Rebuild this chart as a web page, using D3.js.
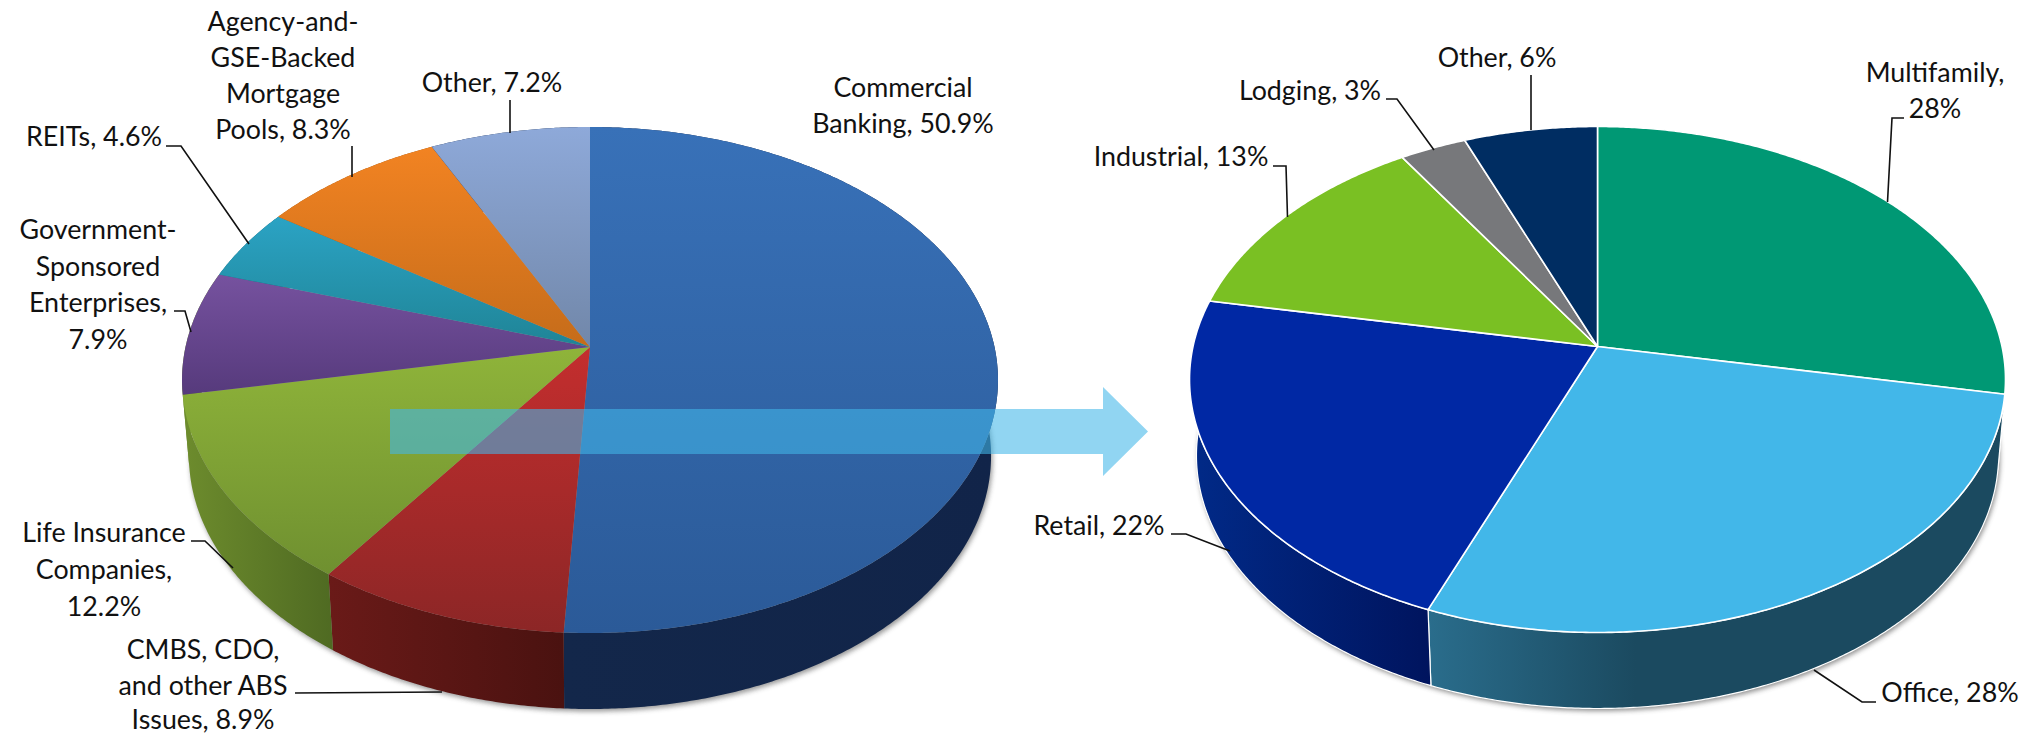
<!DOCTYPE html>
<html><head><meta charset="utf-8">
<style>html,body{margin:0;padding:0;background:#fff}svg{display:block}</style>
<script src="https://cdn.jsdelivr.net/npm/d3@7/dist/d3.min.js"></script>
</head><body><svg id="c" width="2029" height="735"></svg>
<script>
// ---- data ----
const fundingCategories = ["Commercial Banking","CMBS, CDO, and other ABS Issues","Life Insurance Companies","Government-Sponsored Enterprises","REITs","Agency-and-GSE-Backed Mortgage Pools","Other"];
const fundingValues = [50.9, 8.9, 12.2, 7.9, 4.6, 8.3, 7.2];
const propertyCategories = ["Multifamily","Office","Retail","Industrial","Lodging","Other"];
const propertyValues = [28, 28, 22, 13, 3, 6];

// ---- palette ----
const fundingTop  = ["#3871b8","#c42e2e","#8fb43a","#76529f","#2ba3c4","#f28322","#8ea9d9"];
const fundingBot  = ["#2b5a98","#8c2626","#6f9030","#563a7c","#1f8496","#c56c1a","#7187a9"];
const fundingWallL= ["#13274a","#6a1a18","#6d8c2d","#6d8c2d","#1a6f80","#a05a14","#13274a"];
const fundingWallR= ["#112449","#4a1210","#4f6a22","#6d8c2d","#155c6a","#8a4c10","#13274a"];
const propertyFill= ["#009874","#42b7e9","#0028a4","#7ac023","#77787b","#002d62"];
const propertyWallL=["#1b4a60","#2a6d8c","#012a88","#012a88","#55565a","#001f48"];
const propertyWallR=["#1b4a60","#1b4a60","#00145e","#012a88","#48494c","#001a3c"];

// ---- layout ----
const W = 2029, H = 735, K = 0.1304, RX = 404.5, RY = 248.7, DEPTH = 76, SHRINK = 0.983;
const leftCenter = {x: 590, y: 347}, rightCenter = {x: 1597.5, y: 346.5};
const fontFamily = "Lato, 'Open Sans', sans-serif";

// [text lines, x centre, y centres of each line]
const labelLines = [
 [["Commercial","Banking, 50.9%"],903,[88,124]],
 [["Other, 7.2%"],492,[83]],
 [["Agency-and-","GSE-Backed","Mortgage","Pools, 8.3%"],283,[22,58,94,130]],
 [["REITs, 4.6%"],94,[137]],
 [["Government-","Sponsored","Enterprises,","7.9%"],98,[230,267,303,340]],
 [["Life Insurance","Companies,","12.2%"],104,[533,570,607]],
 [["CMBS, CDO,","and other ABS","Issues, 8.9%"],203,[650,686,720]],
 [["Other, 6%"],1497,[58]],
 [["Lodging, 3%"],1310,[91]],
 [["Industrial, 13%"],1181,[157]],
 [["Multifamily,","28%"],1935,[73,109]],
 [["Retail, 22%"],1099,[526]],
 [["Office, 28%"],1950,[693]]
];
const leaderLines = [
 [[510,100],[510,133]],
 [[352,146],[352,177]],
 [[166,146],[181,146],[249,244]],
 [[174,311],[185,311],[191,332]],
 [[191,541],[205,541],[233,568]],
 [[295,693],[442,692]],
 [[1531,75],[1531,130]],
 [[1386,99],[1397,99],[1434,150]],
 [[1273,166],[1286,166],[1287.5,217]],
 [[1904,118],[1892,118],[1887.5,202]],
 [[1171,534],[1186,534],[1230,551]],
 [[1876,702],[1862,702],[1814,670]]
];
const arrowBar = {x0: 390, x1: 1103, tip: 1148, y0: 409, y1: 454, head0: 387, head1: 476};

// ---- drawing ----
const svg = d3.select("#c");
const defs = svg.append("defs");
const blur = defs.append("filter").attr("id","soft").attr("x","-5%").attr("y","-5%").attr("width","110%").attr("height","110%");
blur.append("feGaussianBlur").attr("stdDeviation",2.6);
const path = d3.line().x(d=>d[0]).y(d=>d[1]);
const pieGen = d3.pie().sort(null);
let gid = 0;
function grad(dir, stops){
  const id = "g"+(gid++);
  const g = defs.append("linearGradient").attr("id",id).attr("x1",0).attr("y1",0)
    .attr("x2",dir==="h"?1:0).attr("y2",dir==="h"?0:1);
  stops.forEach(s=>g.append("stop").attr("offset",s[0]).attr("stop-color",s[1]));
  return "url(#"+id+")";
}
function drawPie(values, center, topFill, wallFill, edge, shadowOpacity){
  const sx = d3.scaleLinear().domain([-1,1]).range([center.x-RX, center.x+RX]);
  const sy = d3.scaleLinear().domain([-1,1]).range([center.y-RY, center.y+RY]);
  const top = a => { const u=Math.sin(a), v=-Math.cos(a), p=1/(1-K*v);
    return [sx(u*p), sy(v*p)]; };
  const bot = a => { const t=top(a);
    return [center.x+(t[0]-center.x)*SHRINK, t[1]+DEPTH]; };
  const arcPts = (f,a0,a1) => d3.range(0,1.0001,1/Math.max(2,Math.ceil((a1-a0)/0.008))).map(t=>f(a0+(a1-a0)*t));
  const arcs = pieGen(values);
  const g = svg.append("g");
  g.append("path").attr("d",path(arcPts(bot,0,2*Math.PI))+"Z")
    .attr("transform","translate(1.5,2.5)").attr("fill","#444").attr("opacity",shadowOpacity).attr("filter","url(#soft)");
  g.selectAll(".wall").data(arcs).join("path").attr("class","wall")
    .attr("d",d=>path(arcPts(top,d.startAngle,d.endAngle).concat(arcPts(bot,d.startAngle,d.endAngle).reverse()))+"Z")
    .attr("fill",(d,i)=>wallFill[i]).attr("stroke",edge?"#fff":"none").attr("stroke-width",edge?1.2:0);
  g.selectAll(".face").data(arcs).join("path").attr("class","face")
    .attr("d",d=>path([[center.x,center.y]].concat(arcPts(top,d.startAngle,d.endAngle)))+"Z")
    .attr("fill",(d,i)=>topFill[i]).attr("stroke",edge?"#fff":"none").attr("stroke-width",edge?1.6:0)
    .attr("stroke-linejoin","round");
}
drawPie(fundingValues,leftCenter,
  fundingTop.map((c,i)=>grad("v",[[0,c],[1,fundingBot[i]]])),
  fundingWallL.map((c,i)=>grad("h",[[0,c],[1,fundingWallR[i]]])), false, .55);

const arrowPts = [[arrowBar.x0,arrowBar.y0],[arrowBar.x1,arrowBar.y0],[arrowBar.x1,arrowBar.head0],[arrowBar.tip,(arrowBar.y0+arrowBar.y1)/2],
  [arrowBar.x1,arrowBar.head1],[arrowBar.x1,arrowBar.y1],[arrowBar.x0,arrowBar.y1]];
svg.append("path").attr("d",path(arrowPts)+"Z").attr("fill","#41b7e9").attr("opacity",.58);

drawPie(propertyValues,rightCenter,propertyFill,
  propertyWallL.map((c,i)=>grad("h",i===1?[[0,c],[.36,propertyWallR[i]],[1,propertyWallR[i]]]:[[0,c],[1,propertyWallR[i]]])), true, .6);

svg.append("g").attr("fill","none").attr("stroke","#111").attr("stroke-width",1.6)
  .selectAll("path").data(leaderLines).join("path").attr("d",d=>path(d));
const txt = svg.append("g").attr("font-family",fontFamily).attr("font-size",26.8).attr("fill","#111").attr("text-anchor","middle");
labelLines.forEach(([lines,x,ys])=>lines.forEach((t,i)=>{
  txt.append("text").attr("x",x).attr("y",ys[i]).attr("dy","0.35em").text(t);
}));
</script></body></html>
